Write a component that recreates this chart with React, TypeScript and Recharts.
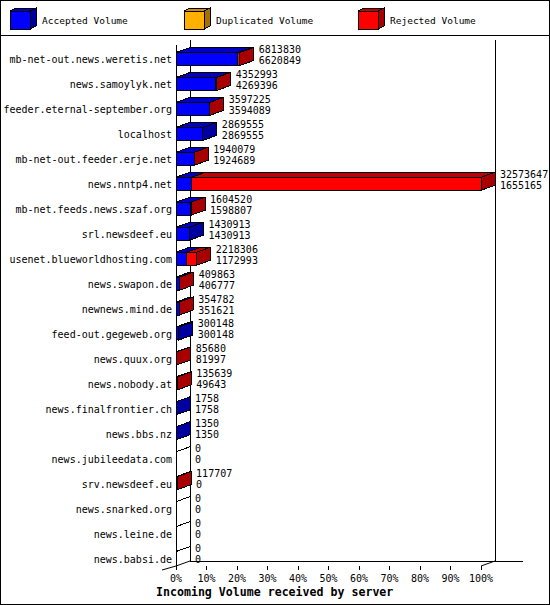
import React from 'react';
import { BarChart, Bar, XAxis, YAxis } from 'recharts';

const servers = [
  'mb-net-out.news.weretis.net',
  'news.samoylyk.net',
  'feeder.eternal-september.org',
  'localhost',
  'mb-net-out.feeder.erje.net',
  'news.nntp4.net',
  'mb-net.feeds.news.szaf.org',
  'srl.newsdeef.eu',
  'usenet.blueworldhosting.com',
  'news.swapon.de',
  'newnews.mind.de',
  'feed-out.gegeweb.org',
  'news.quux.org',
  'news.nobody.at',
  'news.finalfrontier.ch',
  'news.bbs.nz',
  'news.jubileedata.com',
  'srv.newsdeef.eu',
  'news.snarked.org',
  'news.leine.de',
  'news.babsi.de',
];

// offered volume (upper number) and accepted volume (lower number)
const offered = [
  6813830, 4352993, 3597225, 2869555, 1940079, 32573647, 1604520, 1430913, 2218306, 409863,
  354782, 300148, 85680, 135639, 1758, 1350, 0, 117707, 0, 0, 0,
];
const accepted = [
  6620849, 4269396, 3594089, 2869555, 1924689, 1655165, 1598807, 1430913, 1172993, 406777,
  351621, 300148, 81997, 49643, 1758, 1350, 0, 0, 0, 0, 0,
];
const duplicated = [0, 0, 0, 0, 0, 0, 0, 0, 0, 0, 0, 0, 0, 0, 0, 0, 0, 0, 0, 0, 0];

const pctTicks = [0, 10, 20, 30, 40, 50, 60, 70, 80, 90, 100];

const series = [
  { key: 'accepted', name: 'Accepted Volume', front: '#0000ff', top: '#0000c4', side: '#0000a0' },
  { key: 'duplicated', name: 'Duplicated Volume', front: '#ffb000', top: '#d08c00', side: '#a87000' },
  { key: 'rejected', name: 'Rejected Volume', front: '#ff0000', top: '#c00000', side: '#a80000' },
];

const maxOffered = Math.max(...offered);
const rows = servers.map((name, i) => ({
  name,
  total: offered[i],
  acc: accepted[i],
  accepted: (accepted[i] / maxOffered) * 100,
  duplicated: (duplicated[i] / maxOffered) * 100,
  rejected: ((offered[i] - accepted[i] - duplicated[i]) / maxOffered) * 100,
}));

// layout
const W = 550;
const H = 605;
const PLOT_LEFT = 176;
const PLOT_RIGHT = 481;
const PLOT_TOP = 46.5;
const PLOT_BOTTOM = 570.5;
const DX = 14; // 3d depth
const DY = 5;
const FLOOR = PLOT_BOTTOM - 4.5;
const MONO = '"DejaVu Sans Mono", "Liberation Mono", monospace';

const makeShape = (si: number) => (props: any) => {
  const { x, y, width, height, payload } = props;
  const s = series[si];
  const mine = payload[s.key] > 0;
  const later = series.slice(si + 1).some((o) => payload[o.key] > 0);
  const any = series.some((o) => payload[o.key] > 0);
  const isLast = si === series.length - 1;
  const x1 = x + width;
  const t = y;
  const b = y + height;
  const cy = y + height / 2;
  return (
    <g shapeRendering="crispEdges">
      {mine && (
        <>
          <rect x={x} y={t} width={width} height={height} fill={s.front} stroke="#000" />
          <polygon
            points={`${x},${t} ${x + DX},${t - DY} ${x1 + DX},${t - DY} ${x1},${t}`}
            fill={s.top}
            stroke="#000"
          />
        </>
      )}
      {mine && !later && (
        <polygon
          points={`${x1},${t} ${x1 + DX},${t - DY} ${x1 + DX},${b - DY} ${x1},${b}`}
          fill={s.side}
          stroke="#000"
        />
      )}
      {!any && isLast && <line x1={x1} y1={t} x2={x1 + DX} y2={t - DY} stroke="#000" />}
      {isLast && (
        <g fontFamily={MONO} fontSize={10} fill="#000" shapeRendering="auto">
          <text x={x1 + 19} y={cy - 9.5} dominantBaseline="central">
            {payload.total}
          </text>
          <text x={x1 + 19} y={cy + 1.5} dominantBaseline="central">
            {payload.acc}
          </text>
        </g>
      )}
    </g>
  );
};

const YTick = (props: any) => {
  const { x, y, payload } = props;
  return (
    <text x={x} y={y + 1} textAnchor="end" dominantBaseline="central" fontFamily={MONO} fontSize={10} fill="#000">
      {payload.value}
    </text>
  );
};

const XTick = (props: any) => {
  const { x, y, payload } = props;
  return (
    <g>
      <line x1={x} x2={x} y1={y - 4.5} y2={y - 0.5} stroke="#000" shapeRendering="crispEdges" />
      <text x={x} y={y + 7.5} textAnchor="middle" dominantBaseline="central" fontFamily={MONO} fontSize={10} fill="#000">
        {payload.value}%
      </text>
    </g>
  );
};

function Frame() {
  const legendX = [10, 184, 358];
  return (
    <svg width={W} height={H} style={{ position: 'absolute', left: 0, top: 0 }}>
      <rect x={0} y={0} width={W} height={H} fill="#fff" />
      <g shapeRendering="crispEdges" stroke="#000" fill="none">
        <rect x={0.5} y={0.5} width={W - 1} height={H - 1} />
        <line x1={0} x2={W} y1={35.5} y2={35.5} />
        {/* walls and floor */}
        <line x1={PLOT_LEFT + 0.5} x2={PLOT_LEFT + 0.5} y1={PLOT_TOP - 1.5} y2={FLOOR} />
        <line x1={PLOT_LEFT + DX + 0.5} x2={PLOT_LEFT + DX + 0.5} y1={PLOT_TOP - 6.5} y2={FLOOR - DY} />
        <line x1={PLOT_RIGHT + DX + 0.5} x2={PLOT_RIGHT + DX + 0.5} y1={PLOT_TOP - 6.5} y2={FLOOR - DY} />
        <line x1={PLOT_LEFT + DX} x2={523} y1={FLOOR - DY + 0.5} y2={FLOOR - DY + 0.5} />
      </g>
      <g stroke="#000" fill="none">
        <polyline points={`${PLOT_LEFT - 14},${FLOOR + 4} ${PLOT_LEFT},${FLOOR} ${PLOT_LEFT + DX},${FLOOR - DY}`} />
        <line x1={PLOT_RIGHT} y1={FLOOR} x2={PLOT_RIGHT + DX} y2={FLOOR - DY} />
      </g>
      {/* legend */}
      {series.map((s, i) => {
        const lx = legendX[i];
        return (
          <g key={s.key} stroke="#000" shapeRendering="crispEdges">
            <polygon points={`${lx},11 ${lx + 6},8 ${lx + 26},8 ${lx + 20},11`} fill={s.top} />
            <polygon points={`${lx + 20},11 ${lx + 26},8 ${lx + 26},26 ${lx + 20},29`} fill={s.side} />
            <rect x={lx} y={11} width={20} height={18} fill={s.front} />
            <text
              x={lx + 32}
              y={20.5}
              stroke="none"
              fill="#000"
              dominantBaseline="central"
              fontFamily={MONO}
              fontSize={9.5}
            >
              {s.name}
            </text>
          </g>
        );
      })}
      <text x={156} y={592} dominantBaseline="central" fontFamily={MONO} fontWeight="bold" fontSize={11.6} fill="#000">
        Incoming Volume received by server
      </text>
    </svg>
  );
}

export default function App() {
  return (
    <div style={{ position: 'absolute', left: 0, top: 0, width: W, height: H }}>
      <Frame />
      <div style={{ position: 'absolute', left: 0, top: 0 }}>
        <BarChart
          width={W}
          height={H}
          data={rows}
          layout="vertical"
          barSize={13}
          margin={{ top: PLOT_TOP, right: W - PLOT_RIGHT, bottom: 0, left: 0 }}
        >
          <XAxis
            type="number"
            domain={[0, 100]}
            ticks={pctTicks}
            interval={0}
            axisLine={false}
            tickLine={false}
            tickSize={0}
            tickMargin={0}
            height={H - PLOT_BOTTOM}
            tick={<XTick />}
          />
          <YAxis
            type="category"
            dataKey="name"
            width={PLOT_LEFT}
            interval={0}
            axisLine={false}
            tickLine={false}
            tickSize={0}
            tickMargin={4}
            tick={<YTick />}
          />
          {series.map((s, i) => (
            <Bar
              key={s.key}
              dataKey={s.key}
              name={s.name}
              stackId="vol"
              fill={s.front}
              shape={makeShape(i)}
              isAnimationActive={false}
            />
          ))}
        </BarChart>
      </div>
    </div>
  );
}
